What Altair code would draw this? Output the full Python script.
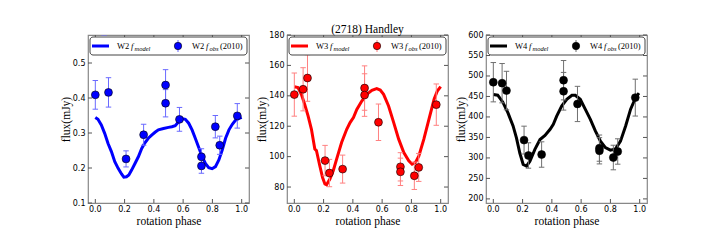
import altair as alt
import pandas as pd

# ---------------- data ----------------
phase_W2 = [0.0, 0.06, 0.09, 0.21, 0.33, 0.48, 0.48, 0.575, 0.725, 0.725, 0.82, 0.85, 0.97]
flux_W2 = [0.409, 0.63, 0.416, 0.226, 0.295, 0.437, 0.385, 0.339, 0.232, 0.206, 0.318, 0.265, 0.349]
err_W2 = [0.041, 0.05, 0.042, 0.023, 0.030, 0.044, 0.039, 0.034, 0.023, 0.021, 0.032, 0.026, 0.035]

phase_obs = [0.0, 0.06, 0.09, 0.21, 0.24, 0.33, 0.48, 0.48, 0.575, 0.725, 0.725, 0.82, 0.85, 0.97]
flux_W3 = [140.8, 144.3, 151.7, 97.4, 89.2, 91.8, 145.1, 140.5, 122.6, 93.3, 90.0, 87.4, 92.9, 134.2]
err_W3 = [14.2, 14.2, 15.3, 10.0, 9.0, 9.2, 14.6, 14.0, 12.0, 9.3, 9.0, 9.0, 9.2, 13.6]
flux_W4 = [484.8, 482.4, 464.4, 343.5, 305.9, 308.3, 489.7, 462.7, 431.7, 323.9, 317.4, 301.0, 315.7, 447.2]
err_W4 = [48, 48, 47, 34, 31, 31, 48, 46, 43, 32, 32, 30, 31, 45]

model_phase_W2 = [0.0, 0.018, 0.041, 0.064, 0.087, 0.11, 0.133, 0.156, 0.179, 0.195, 0.213, 0.229,
                  0.248, 0.271, 0.294, 0.317, 0.339, 0.362, 0.385, 0.408, 0.431, 0.466, 0.5, 0.523,
                  0.546, 0.569, 0.592, 0.615, 0.638, 0.661, 0.683, 0.706, 0.729, 0.752, 0.775, 0.798,
                  0.821, 0.844, 0.867, 0.89, 0.913, 0.936, 0.959, 0.982, 1.0]
model_flux_W2 = [0.344, 0.339, 0.323, 0.299, 0.270, 0.247, 0.218, 0.199, 0.183, 0.174, 0.175, 0.180,
                 0.194, 0.213, 0.232, 0.256, 0.272, 0.285, 0.294, 0.302, 0.309, 0.313, 0.316, 0.318,
                 0.321, 0.332, 0.341, 0.339, 0.328, 0.309, 0.285, 0.259, 0.234, 0.213, 0.201, 0.198,
                 0.204, 0.223, 0.251, 0.285, 0.309, 0.325, 0.337, 0.342, 0.345]

model_phase_W3 = [0.0, 0.025, 0.048, 0.071, 0.094, 0.117, 0.14, 0.151, 0.174, 0.193, 0.209, 0.22,
                  0.243, 0.266, 0.289, 0.323, 0.358, 0.381, 0.404, 0.427, 0.461, 0.495, 0.53, 0.563,
                  0.587, 0.61, 0.644, 0.679, 0.713, 0.748, 0.782, 0.805, 0.828, 0.851, 0.885, 0.92,
                  0.955, 0.977, 1.0]
model_flux_W3 = [146.0, 145.4, 141.0, 134.4, 126.8, 118.0, 105.0, 104.0, 94.0, 86.3, 82.0, 81.5,
                 85.2, 90.7, 98.4, 109.3, 118.0, 122.4, 125.7, 131.0, 136.6, 141.0, 143.6, 144.7,
                 143.8, 141.0, 133.3, 122.4, 111.5, 102.7, 97.3, 95.0, 96.2, 100.5, 111.5, 124.6,
                 137.7, 143.2, 146.0]

model_phase_W4 = [0.0, 0.03, 0.065, 0.1, 0.135, 0.158, 0.181, 0.204, 0.227, 0.25, 0.284, 0.319,
                  0.353, 0.388, 0.41, 0.433, 0.468, 0.502, 0.537, 0.56, 0.594, 0.628, 0.663, 0.697,
                  0.732, 0.766, 0.8, 0.835, 0.869, 0.904, 0.938, 0.972, 0.995]
model_flux_W4 = [455, 453, 436, 410, 378, 349, 312, 284, 280, 292, 321, 345,
                 355, 370, 382, 402, 427, 443, 453, 453, 443, 419, 394, 366,
                 341, 325, 319, 322, 341, 378, 419, 447, 458]

x_ticks = [0.0, 0.2, 0.4, 0.6, 0.8, 1.0]
yticks_W2 = [0.1, 0.2, 0.3, 0.4, 0.5]
yticks_W3 = [80, 100, 120, 140, 160, 180]
yticks_W4 = [200, 250, 300, 350, 400, 450, 500, 550, 600]
TITLE = "(2718) Handley"

SERIF = "Liberation Serif"
SANS = "DejaVu Sans"
W, H = 161, 168
TICK_COL = "#555555"


def panel(band, color, err_color, ph, fl, er, mph, mfl, ydom, yticks, yfmt, title=None):
    obs = pd.DataFrame({"phase": ph, "flux": fl,
                        "lo": [f - e for f, e in zip(fl, er)],
                        "hi": [f + e for f, e in zip(fl, er)]})
    model = pd.DataFrame({"phase": mph, "flux": mfl})
    xt = pd.DataFrame({"phase": x_ticks})
    yt = pd.DataFrame({"flux": yticks})
    xs = alt.Scale(domain=[-0.05, 1.05], nice=False, zero=False)
    ys = alt.Scale(domain=ydom, nice=False, zero=False)
    xax = alt.Axis(values=x_ticks, labels=False, title="rotation phase", grid=False,
                   ticks=False, titlePadding=12)
    yax = alt.Axis(values=yticks, format=yfmt, title="flux(mJy)", grid=False,
                   ticks=False, labelPadding=3, titlePadding=1, labelOverlap=False)
    X = alt.X("phase:Q", scale=xs, axis=xax)

    def Yf(field):
        return alt.Y(field, type="quantitative", scale=ys, axis=yax)

    line = alt.Chart(model).mark_line(color=color, strokeWidth=3, clip=True).encode(x=X, y=Yf("flux"))
    bars = alt.Chart(obs).mark_rule(color=err_color, strokeWidth=1, clip=True).encode(
        x=X, y=Yf("lo"), y2="hi:Q")
    cap = "M-1,0L1,0"
    cap_lo = alt.Chart(obs).mark_point(shape=cap, size=30, filled=False, color=err_color,
                                       strokeWidth=1, clip=True, opacity=1).encode(x=X, y=Yf("lo"))
    cap_hi = alt.Chart(obs).mark_point(shape=cap, size=30, filled=False, color=err_color,
                                       strokeWidth=1, clip=True, opacity=1).encode(x=X, y=Yf("hi"))
    pts = alt.Chart(obs).mark_point(filled=True, size=62, fill=color, stroke="black",
                                    strokeWidth=0.6, opacity=1, clip=True).encode(x=X, y=Yf("flux"))

    # inward tick marks on all four sides (matplotlib classic style)
    tb = alt.Chart(xt).mark_rule(color=TICK_COL, strokeWidth=1).encode(
        x=X, y=alt.value(H), y2=alt.value(H - 4))
    tt = alt.Chart(xt).mark_rule(color=TICK_COL, strokeWidth=1).encode(
        x=X, y=alt.value(0), y2=alt.value(4))
    tl = alt.Chart(yt).mark_rule(color=TICK_COL, strokeWidth=1).encode(
        y=Yf("flux"), x=alt.value(0), x2=alt.value(4))
    tr = alt.Chart(yt).mark_rule(color=TICK_COL, strokeWidth=1).encode(
        y=Yf("flux"), x=alt.value(W), x2=alt.value(W - 4))
    # x tick labels, placed through the x scale
    xl = alt.Chart(xt).mark_text(font=SANS, fontSize=8, baseline="top", align="center",
                                 color="black").encode(
        x=X, y=alt.value(H + 3), text=alt.Text("phase:Q", format=".1f"))

    one = pd.DataFrame({"a": [0]})
    base = alt.Chart(one)
    box = base.mark_rect(fill="white", stroke="#444", strokeWidth=1, cornerRadius=3).encode(
        x=alt.value(2), x2=alt.value(W - 2), y=alt.value(2), y2=alt.value(20))
    lsym = base.mark_rule(color=color, strokeWidth=3).encode(
        x=alt.value(4), x2=alt.value(21), y=alt.value(11))
    esym = base.mark_rule(color=err_color, strokeWidth=1).encode(
        x=alt.value(90), y=alt.value(5), y2=alt.value(17))
    psym = base.mark_point(filled=True, size=55, fill=color, stroke="black", strokeWidth=0.6,
                           opacity=1).encode(x=alt.value(90), y=alt.value(11))

    def txt(x, y, s, size=8.5, style="normal", align="left"):
        return base.mark_text(font=SERIF, fontSize=size, fontStyle=style, align=align,
                              baseline="alphabetic", color="black").encode(
            x=alt.value(x), y=alt.value(y), text=alt.value(s))

    legend = [box, lsym, esym, psym,
              txt(29, 14, band), txt(43, 14, "f", style="italic"),
              txt(46.5, 16, "model", size=6.5, style="italic"),
              txt(104, 14, band), txt(118, 14, "f", style="italic"),
              txt(121.5, 16, "obs", size=6.5, style="italic"),
              txt(132, 14, "(2010)")]
    extra = []
    if title:
        extra.append(txt(W / 2, -2, title, size=11.5, align="center"))

    return alt.layer(tb, tt, tl, tr, xl, line, bars, cap_lo, cap_hi, pts, *legend, *extra).properties(
        width=W, height=H)


p1 = panel("W2", "#0000ff", "#6a6aff", phase_W2, flux_W2, err_W2, model_phase_W2, model_flux_W2,
           [0.1, 0.58], yticks_W2, ".1f")
p2 = panel("W3", "#ff0000", "#ff8080", phase_obs, flux_W3, err_W3, model_phase_W3, model_flux_W3,
           [69.5, 180], yticks_W3, "d", title=TITLE)
p3 = panel("W4", "black", "#707070", phase_obs, flux_W4, err_W4, model_phase_W4, model_flux_W4,
           [190, 600], yticks_W4, "d")

chart = alt.hconcat(p1, p2, p3, spacing=38, bounds="flush").properties(
    padding={"left": 51, "top": 15, "right": 5, "bottom": 5},
).configure_view(stroke="#888888", strokeWidth=1.2).configure_axis(
    labelFont=SANS, labelFontSize=8, labelColor="black",
    titleFont=SERIF, titleFontSize=11.5, titleFontWeight="normal", titleColor="black",
    domain=False, labelOverlap=False,
)

chart.save("out.html", embed_options={"renderer": "svg", "actions": False})
